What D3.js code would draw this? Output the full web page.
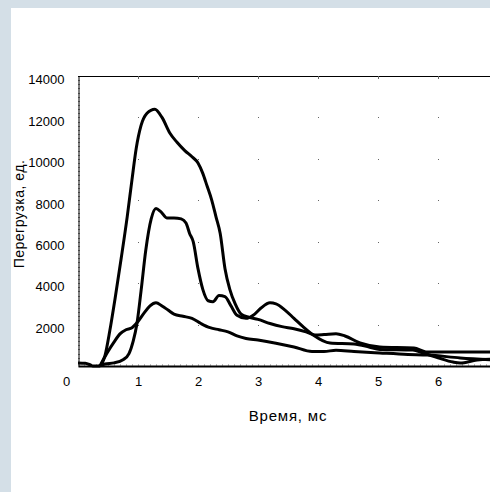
<!DOCTYPE html>
<html>
<head>
<meta charset="utf-8">
<script src="https://cdn.jsdelivr.net/npm/d3@7"></script>
<style>
	body { margin: 0; background: #fff; }
	svg { display: block; }
</style>
</head>
<body>
<div id="chart"></div>
<script>
// overload curves, time in ms
var seriesA = [[0.38, 0], [0.45, 500], [0.53, 1700], [0.62, 3300], [0.72, 5200], [0.82, 7200], [0.9, 9000],
	[0.97, 10500], [1.05, 11600], [1.15, 12200], [1.28, 12400], [1.4, 12000], [1.53, 11250], [1.65, 10800], [1.78, 10400],
	[1.9, 10100], [2.0, 9800], [2.08, 9300], [2.15, 8700], [2.23, 8000], [2.3, 7200], [2.37, 6400], [2.45, 4700],
	[2.53, 3700], [2.62, 3000], [2.72, 2500], [2.85, 2350], [3.0, 2250], [3.2, 2050], [3.4, 1900], [3.6, 1800],
	[3.8, 1650], [3.95, 1500], [4.1, 1520], [4.3, 1560], [4.45, 1450], [4.7, 1110], [5.03, 920], [5.6, 870],
	[5.8, 680], [6.3, 680], [7.0, 680]];
var seriesB = [[0.35, 0], [0.45, 100], [0.6, 150], [0.75, 300], [0.85, 600], [0.92, 1200], [0.98, 2000],
	[1.05, 3600], [1.13, 5600], [1.22, 7100], [1.3, 7600], [1.38, 7450], [1.48, 7150], [1.6, 7150], [1.72, 7100],
	[1.8, 6900], [1.86, 6400], [1.92, 6000], [2.0, 4700], [2.08, 3700], [2.17, 3150], [2.25, 3100], [2.35, 3400],
	[2.45, 3350], [2.55, 2900], [2.65, 2450], [2.8, 2300], [2.92, 2450], [3.05, 2800], [3.2, 3050], [3.3, 3000],
	[3.45, 2700], [3.6, 2300], [3.75, 1900], [3.92, 1500], [4.2, 1110], [4.6, 1060], [4.85, 920], [5.03, 800],
	[5.58, 770], [5.75, 630], [6.0, 400], [6.25, 190], [6.37, 145], [6.65, 290], [7.0, 340]];
var seriesC = [[0, 150], [0.12, 130], [0.2, 60], [0.25, 0], [0.35, 0], [0.42, 300], [0.5, 700], [0.6, 1150],
	[0.7, 1550], [0.8, 1750], [0.9, 1850], [1.0, 2150], [1.1, 2550], [1.2, 2900], [1.3, 3050], [1.4, 2900],
	[1.5, 2700], [1.6, 2500], [1.75, 2400], [1.9, 2300], [2.05, 2050], [2.2, 1850], [2.35, 1750], [2.5, 1650],
	[2.65, 1450], [2.8, 1330], [3.0, 1250], [3.3, 1100], [3.6, 920], [3.9, 700], [4.1, 700], [4.3, 760],
	[4.6, 700], [5.03, 630], [5.5, 560], [5.83, 530], [6.37, 390], [7.0, 280]];
var series = [seriesA, seriesB, seriesC];

var xTicks = [0, 1, 2, 3, 4, 5, 6];
var yTicks = [2000, 4000, 6000, 8000, 10000, 12000, 14000];
var xTitle = "Время, мс";
var yTitle = "Перегрузка, ед.";

var width = 490, height = 492;
var plotLeft = 78, plotTop = 76, plotRight = 498, plotBottom = 366;

var svg = d3.select("#chart").append("svg:svg")
	.attr("width", width)
	.attr("height", height);

// frame
svg.append("rect").attr("width", width).attr("height", height).style("fill", "#d4dfe7");
svg.append("rect").attr("x", 11).attr("y", 8).attr("width", width - 11).attr("height", height - 8).style("fill", "#fff");

var x = d3.scaleLinear().domain([0, 7]).range([plotLeft, plotRight]);
var y = d3.scaleLinear().domain([0, 14000]).range([plotBottom, plotTop]);

// dots on grid intersections
var dots = [];
xTicks.slice(1).forEach(function(t) {
	yTicks.slice(0, -1).forEach(function(v) { dots.push([t, v]); });
});
svg.append("g").selectAll("rect").data(dots).enter().append("rect")
	.attr("x", function(d) { return Math.round(x(d[0])); })
	.attr("y", function(d) { return Math.round(y(d[1])); })
	.attr("width", 1).attr("height", 1)
	.style("fill", "#666");

// minor ticks
var minorY = d3.range(200, 14000, 200);
svg.append("g").selectAll("line").data(minorY).enter().append("line")
	.attr("x1", plotLeft).attr("x2", plotLeft + 2)
	.attr("y1", function(d) { return Math.round(y(d)) + 0.5; })
	.attr("y2", function(d) { return Math.round(y(d)) + 0.5; })
	.attr("stroke", "#888").attr("stroke-width", 1);
var minorX = d3.range(0.1, 7, 0.1);
svg.append("g").selectAll("line").data(minorX).enter().append("line")
	.attr("x1", function(d) { return Math.round(x(d)) + 0.5; })
	.attr("x2", function(d) { return Math.round(x(d)) + 0.5; })
	.attr("y1", plotBottom - 2).attr("y2", plotBottom)
	.attr("stroke", "#bbb").attr("stroke-width", 1);

// top border with ticks
svg.append("line").attr("x1", plotLeft).attr("x2", plotRight).attr("y1", plotTop + 0.5).attr("y2", plotTop + 0.5)
	.attr("stroke", "#000").attr("stroke-width", 1);
svg.append("g").selectAll("line").data(xTicks.slice(1)).enter().append("line")
	.attr("x1", function(d) { return Math.round(x(d)) + 0.5; })
	.attr("x2", function(d) { return Math.round(x(d)) + 0.5; })
	.attr("y1", plotTop).attr("y2", plotTop + 3)
	.attr("stroke", "#666");

// curves
var line = d3.line()
	.x(function(d) { return x(d[0]); })
	.y(function(d) { return y(d[1]); })
	.curve(d3.curveMonotoneX);
svg.append("g").selectAll("path").data(series).enter().append("path")
	.attr("d", line)
	.attr("fill", "none")
	.attr("stroke", "#000")
	.attr("stroke-width", 3)
	.attr("stroke-linejoin", "round");

// axes
var xAxis = svg.append("g")
	.attr("transform", "translate(0," + plotBottom + ")")
	.call(d3.axisBottom(x).tickValues(xTicks).tickSize(0).tickPadding(11).tickFormat(d3.format("d")));
xAxis.select(".domain").attr("stroke", "#000").attr("stroke-width", 2);
xAxis.selectAll(".tick").filter(function(d) { return d === 0; }).select("text").attr("dx", -12);

var yAxis = svg.append("g")
	.attr("transform", "translate(" + (plotLeft + 0.5) + ",0)")
	.call(d3.axisLeft(y).tickValues(yTicks).tickSize(0).tickPadding(14).tickFormat(d3.format("d")));
yAxis.select(".domain").attr("stroke", "#000").attr("stroke-width", 1);
yAxis.selectAll(".tick text").attr("dy", "0.6em");

svg.selectAll(".tick text")
	.attr("fill", "#000")
	.style("font-family", "Liberation Sans, Arial, sans-serif")
	.style("font-size", "13px");

// titles
svg.append("text")
	.attr("x", 288).attr("y", 421)
	.attr("text-anchor", "middle")
	.attr("fill", "#000")
	.style("font-family", "Liberation Sans, Arial, sans-serif")
	.style("font-size", "15px")
	.style("letter-spacing", "0.8px")
	.text(xTitle);
svg.append("text")
	.attr("transform", "translate(24,214) rotate(-90)")
	.attr("text-anchor", "middle")
	.attr("fill", "#000")
	.style("font-family", "Liberation Sans, Arial, sans-serif")
	.style("font-size", "14px")
	.style("letter-spacing", "0.5px")
	.text(yTitle);
</script>
</body>
</html>
